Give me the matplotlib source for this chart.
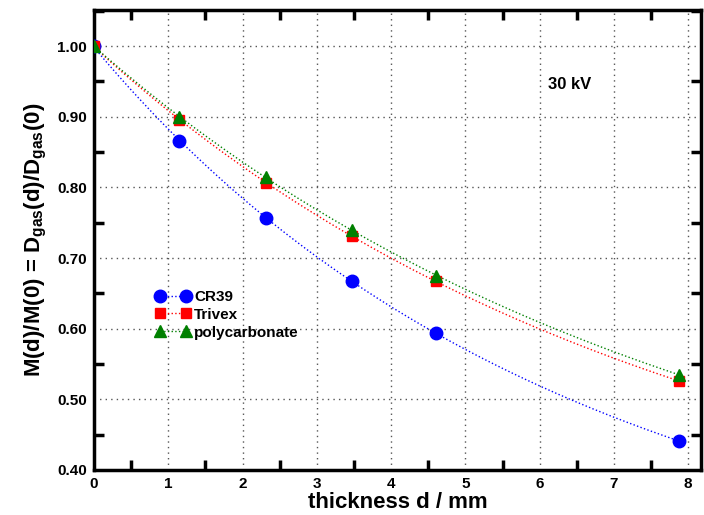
import numpy as np
import matplotlib
matplotlib.use("Agg")
import matplotlib.pyplot as plt
from matplotlib.ticker import MultipleLocator

plt.rcParams['font.family'] = ['Liberation Sans', 'DejaVu Sans']
plt.rcParams['font.weight'] = 'bold'
plt.rcParams['mathtext.fontset'] = 'custom'
plt.rcParams['mathtext.bf'] = 'Liberation Sans:bold'
plt.rcParams['mathtext.rm'] = 'Liberation Sans:bold'
plt.rcParams['mathtext.default'] = 'bf'

# thickness d in mm
thickness = [0.0, 1.15, 2.31, 3.48, 4.61, 7.87]
cr39 = [1.000, 0.865, 0.756, 0.667, 0.594, 0.441]
trivex = [1.000, 0.895, 0.806, 0.731, 0.667, 0.526]
polycarb = [1.000, 0.899, 0.815, 0.739, 0.675, 0.535]

series = [
    ("CR39", cr39, "blue", "o", 9),
    ("Trivex", trivex, "red", "s", 7),
    ("polycarbonate", polycarb, "green", "^", 8),
]

fig = plt.figure(figsize=(7.04, 5.15), dpi=100)
ax = fig.add_axes([0.1335, 0.0874, 0.862, 0.8932])

xs = np.linspace(0, max(thickness), 200)
for name, vals, col, mk, ms in series:
    # smooth dotted fit curve through the measured points
    coef = np.polyfit(thickness, np.log(vals), 2)
    ax.plot(xs, np.exp(np.polyval(coef, xs)), ':', color=col, lw=1.0, zorder=2)
    ax.plot(thickness, vals, linestyle='none', marker=mk, color=col,
            markersize=ms, zorder=3)
    # legend proxy
    ax.plot([], [], linestyle=':', marker=mk, color=col, markersize=ms, lw=1.0,
            label=name)

ax.set_xlim(0, 8.17)
ax.set_ylim(0.40, 1.051)
ax.xaxis.set_major_locator(MultipleLocator(1))
ax.xaxis.set_minor_locator(MultipleLocator(0.5))
ax.yaxis.set_major_locator(MultipleLocator(0.1))
ax.yaxis.set_minor_locator(MultipleLocator(0.05))
ax.yaxis.set_major_formatter(matplotlib.ticker.FormatStrFormatter('%.2f'))

ax.grid(True, which='major', linestyle=(0, (1, 3)), color='#555555', lw=1.0)
ax.tick_params(which='both', direction='in', top=True, right=True,
               labelsize=11, width=2.5, pad=5)
ax.tick_params(which='major', length=0)
ax.tick_params(which='minor', length=7)
for sp in ax.spines.values():
    sp.set_linewidth(2.5)

ax.set_xlabel("thickness d / mm", fontsize=16, fontweight='bold', labelpad=1)
ax.set_ylabel(r"M(d)/M(0) = D$_{gas}$(d)/D$_{gas}$(0)", fontsize=16,
              fontweight='bold', labelpad=6)

ax.text(0.748, 0.837, "30 kV", transform=ax.transAxes, fontsize=12,
        fontweight='bold', ha='left', va='center')

leg = ax.legend(loc='upper left', bbox_to_anchor=(0.088, 0.408), numpoints=2,
                frameon=False, fontsize=11, handlelength=2.3,
                handletextpad=0.25, labelspacing=0.25, borderpad=0)

fig.savefig("out.png", dpi=100)
